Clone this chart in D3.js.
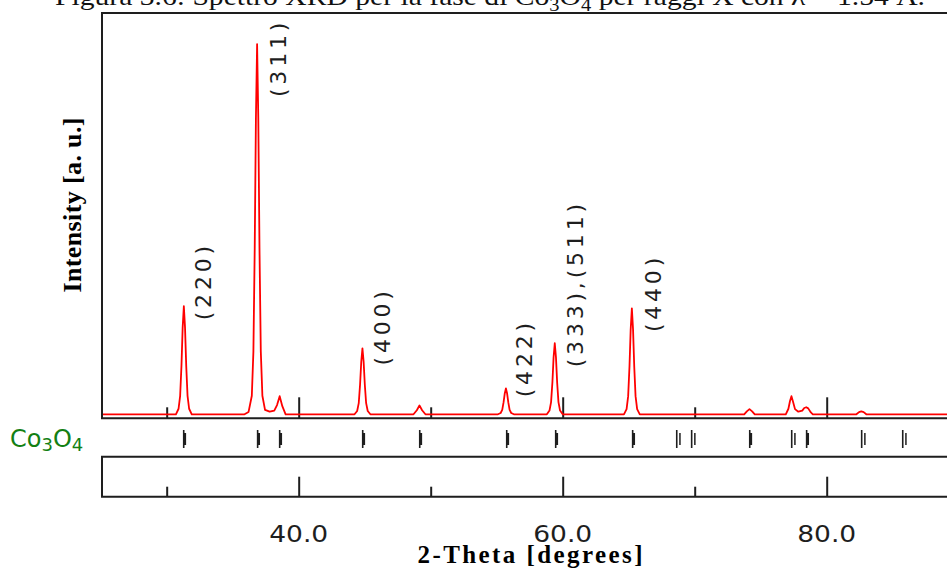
<!DOCTYPE html>
<html>
<head>
<meta charset="utf-8">
<script src="https://cdn.jsdelivr.net/npm/d3@7/dist/d3.min.js"></script>
<style>
  body { margin: 0; background: #fff; }
  svg { display: block; }
</style>
</head>
<body>
<svg id="chart" width="947" height="573"></svg>
<script>
// Measured XRD profile of Co3O4: [2-theta (deg), intensity (a.u.)]
const profile = [
  [25.1, 0],
  [30.70, 0], [30.90, 1.5], [31.02, 5.0], [31.12, 13.1], [31.21, 23.4], [31.30, 29.2],
  [31.39, 23.4], [31.48, 13.1], [31.58, 5.0], [31.70, 1.5], [31.90, 0],
  [35.90, 0], [36.20, 0.6], [36.45, 5], [36.57, 17], [36.67, 45], [36.76, 80], [36.85, 100],
  [36.94, 80], [37.03, 45], [37.13, 17], [37.25, 5], [37.45, 1.2], [37.80, 0.7],
  [38.15, 1.0], [38.36, 2.5], [38.56, 4.9], [38.76, 2.2], [39.01, 0],
  [44.23, 0], [44.43, 0.9], [44.55, 3.0], [44.65, 8.0], [44.74, 14.2], [44.83, 17.8],
  [44.92, 14.2], [45.01, 8.0], [45.11, 3.0], [45.23, 0.9], [45.43, 0],
  [48.70, 0], [48.95, 1.1], [49.15, 2.4], [49.35, 1.1], [49.60, 0],
  [55.10, 0], [55.30, 0.35], [55.42, 1.2], [55.52, 3.2], [55.61, 5.6], [55.70, 7.0],
  [55.79, 5.6], [55.88, 3.2], [55.98, 1.2], [56.10, 0.35], [56.30, 0],
  [58.80, 0], [59.00, 1.0], [59.12, 3.3], [59.22, 8.6], [59.31, 15.4], [59.40, 19.2],
  [59.49, 15.4], [59.58, 8.6], [59.68, 3.3], [59.80, 1.0], [60.00, 0],
  [64.64, 0], [64.84, 1.4], [64.96, 4.9], [65.06, 12.9], [65.15, 22.9], [65.24, 28.6],
  [65.33, 22.9], [65.42, 12.9], [65.52, 4.9], [65.64, 1.4], [65.84, 0],
  [73.75, 0], [73.95, 0.8], [74.15, 1.4], [74.35, 0.8], [74.55, 0],
  [76.90, 0], [77.10, 1.5], [77.22, 3.6], [77.33, 4.9], [77.45, 3.4], [77.60, 1.4],
  [77.85, 0.7], [78.15, 1.0], [78.30, 1.7], [78.45, 1.9], [78.60, 1.6], [78.80, 0.5], [78.95, 0],
  [82.25, 0], [82.45, 0.6], [82.62, 0.8], [82.80, 0.6], [83.00, 0],
  [90, 0]
];

// Reference reflection positions for the Co3O4 phase (2-theta, deg)
const refTheta = [31.29, 36.89, 38.56, 44.85, 49.17, 55.76, 59.47, 65.30,
                  68.64, 69.77, 74.17, 77.35, 78.48, 82.65, 85.76];
const refWeak  = [false, false, false, false, false, false, false, false,
                  true, true, false, true, false, true, true];

// Miller-index annotations and their anchors in data units
const hklLabels = ["(220)", "(311)", "(400)", "(422)", "(333),(511)", "(440)"];
const hklTheta = [33.37, 39.02, 46.89, 57.65, 61.52, 67.42];
const hklIntensity = [25.4, 85.7, 13.2, 4.6, 12.7, 22.2];

// Axis ticks
const minorTicks = [30, 50, 70, 90];
const majorTicks = [40, 60, 80];
const majorTickLabels = ["40.0", "60.0", "80.0"];

const svg = d3.select("#chart");
svg.append("rect").attr("width", 947).attr("height", 573).attr("fill", "#fff");

const left = 102, right = 958.7;
const plotTop = 13, plotBottom = 418.3;
const stripBottom = 456.7, boxBottom = 496.7;

const x = d3.scaleLinear().domain([25.1, 90]).range([left, right]);
const y = d3.scaleLinear().domain([0, 108.4]).range([414.3, plotTop]);

const ink = "#1e1e1e";

// Caption above the plot (partly outside the page)
const cap = svg.append("text")
  .attr("x", 55).attr("y", 5)
  .attr("font-family", "'Liberation Serif', 'DejaVu Serif', serif")
  .attr("font-size", 26)
  .attr("fill", "#111")
  .attr("textLength", 870)
  .attr("lengthAdjust", "spacingAndGlyphs");
cap.append("tspan").text("Figura 3.6: Spettro XRD per la fase di Co");
cap.append("tspan").attr("font-size", 18).attr("dy", 6).text("3");
cap.append("tspan").attr("dy", -6).text("O");
cap.append("tspan").attr("font-size", 18).attr("dy", 6).text("4");
cap.append("tspan").attr("dy", -6).text(" per raggi X con \u03BB = 1.54 \u00C5.");

// Tick marks: rising from the bottom of the pattern box and of the axis box
function tickRow(yPos, values, len) {
  const g = svg.append("g")
    .attr("transform", `translate(0,${yPos})`)
    .call(d3.axisTop(x).tickValues(values).tickSize(len).tickFormat(""));
  g.select(".domain").remove();
  g.selectAll(".tick line").attr("stroke", ink).attr("stroke-width", 2);
}
tickRow(plotBottom, minorTicks, 11);
tickRow(plotBottom, majorTicks, 21);
tickRow(boxBottom, minorTicks, 10);
tickRow(boxBottom, majorTicks, 20);

// Diffraction pattern
svg.append("clipPath").attr("id", "plotClip")
  .append("rect").attr("x", left).attr("y", plotTop)
  .attr("width", right - left).attr("height", plotBottom - plotTop);

svg.append("path")
  .datum(profile)
  .attr("clip-path", "url(#plotClip)")
  .attr("fill", "none")
  .attr("stroke", "#ff0000")
  .attr("stroke-width", 1.8)
  .attr("stroke-linejoin", "round")
  .attr("d", d3.line().x(d => x(d[0])).y(d => y(d[1])));

// Frames: pattern box and axis box (the marker strip between them is open)
svg.append("path")
  .attr("fill", "none").attr("stroke", ink).attr("stroke-width", 2)
  .attr("d", `M${right},${plotTop}H${left}V${plotBottom}H${right}`);
svg.append("path")
  .attr("fill", "none").attr("stroke", ink).attr("stroke-width", 2)
  .attr("d", `M${right},${stripBottom}H${left}V${boxBottom}H${right}`);

// Reflection markers
const marks = svg.append("g");
refTheta.forEach((t, i) => {
  const px = x(t);
  marks.append("line")
    .attr("x1", px).attr("x2", px).attr("y1", 430).attr("y2", 448)
    .attr("stroke", ink).attr("stroke-width", 1.6);
  const off = refWeak[i] ? 3.2 : 1.3;
  marks.append("line")
    .attr("x1", px + off).attr("x2", px + off).attr("y1", 433).attr("y2", 445)
    .attr("stroke", ink).attr("stroke-width", refWeak[i] ? 1.5 : 2.2);
});

// Phase name
const phase = svg.append("text")
  .attr("x", 10).attr("y", 447)
  .attr("font-family", "'DejaVu Sans', sans-serif")
  .attr("font-size", 24)
  .attr("fill", "#138013");
phase.append("tspan").text("Co");
phase.append("tspan").attr("font-size", 18).attr("dy", 4).text("3");
phase.append("tspan").attr("dy", -4).text("O");
phase.append("tspan").attr("font-size", 18).attr("dy", 4).text("4");

// Miller indices
hklLabels.forEach((lab, i) => {
  svg.append("text")
    .attr("transform", `translate(${x(hklTheta[i])},${y(hklIntensity[i])}) rotate(-90)`)
    .attr("font-family", "'DejaVu Sans', sans-serif")
    .attr("font-size", 22)
    .attr("letter-spacing", 3.8)
    .attr("fill", ink)
    .text(lab);
});

// Tick labels (wide glyphs)
majorTicks.forEach((v, i) => {
  svg.append("text")
    .attr("x", x(v)).attr("y", 542)
    .attr("text-anchor", "middle")
    .attr("font-family", "'DejaVu Sans', sans-serif")
    .attr("font-size", 23)
    .attr("fill", ink)
    .attr("textLength", 59)
    .attr("lengthAdjust", "spacingAndGlyphs")
    .text(majorTickLabels[i]);
});

// Axis titles
svg.append("text")
  .attr("x", 530).attr("y", 563)
  .attr("text-anchor", "middle")
  .attr("font-family", "'Liberation Serif', 'DejaVu Serif', serif")
  .attr("font-weight", "bold")
  .attr("font-size", 25)
  .attr("textLength", 225)
  .attr("fill", "#000")
  .text("2-Theta [degrees]");

svg.append("text")
  .attr("transform", "translate(80.5,205) rotate(-90)")
  .attr("text-anchor", "middle")
  .attr("font-family", "'Liberation Serif', 'DejaVu Serif', serif")
  .attr("font-weight", "bold")
  .attr("font-size", 26)
  .attr("textLength", 175)
  .attr("fill", "#000")
  .text("Intensity [a. u.]");
</script>
</body>
</html>
